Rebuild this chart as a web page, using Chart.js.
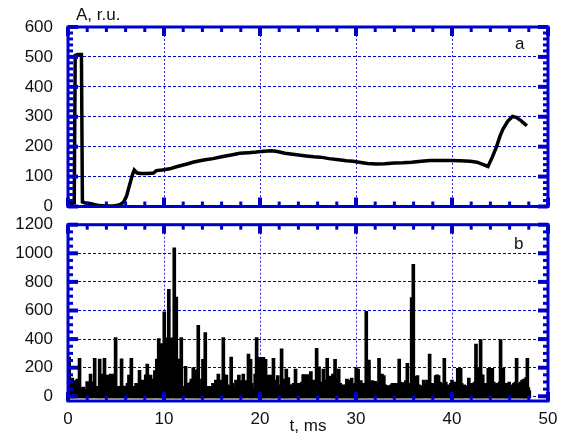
<!DOCTYPE html>
<html>
<head>
<meta charset="utf-8">
<script src="https://cdn.jsdelivr.net/npm/chart.js@4.4.1/dist/chart.umd.min.js"></script>
<style>
  body { margin: 0; background: #fff; overflow: hidden; }
  #wrap { position: relative; width: 562px; height: 434px; }
  canvas { position: absolute; left: 0; }
  .lbl { position: absolute; font: 17px "Liberation Sans", Arial, sans-serif; line-height: 20px; color: #111; white-space: nowrap; }
</style>
</head>
<body>
<div id="wrap">
  <canvas id="chartA" width="562" height="214" style="top:0"></canvas>
  <canvas id="chartB" width="562" height="220" style="top:214px"></canvas>
  <span class="lbl" style="left:76px;top:5px">A, r.u.</span>
  <span class="lbl" style="left:515px;top:34px">a</span>
  <span class="lbl" style="left:514px;top:234px">b</span>
</div>
<script>
// panel a: amplitude, r.u. vs t, ms
const tA = [0, 0.3, 0.65, 0.75, 1.0, 1.4, 1.5, 1.8, 2.3, 2.8, 3.3, 4.0, 4.7, 5.2, 5.5, 5.8, 6.1, 6.4, 6.7, 6.9,
  7.2, 7.6, 8.2, 8.9, 9.2, 9.8, 10.6, 11.2, 11.7, 12.4, 13.0, 13.6, 14.3, 15.1, 16.0, 17.0, 17.9, 18.8, 19.6, 20.4,
  21.2, 21.8, 22.6, 23.8, 24.8, 25.6, 26.3, 27.2, 28.2, 29.0, 29.7, 30.5, 31.2, 32.1, 33.0, 34.0, 34.9, 35.8, 36.8, 37.7,
  38.6, 39.8, 40.8, 41.9, 42.6, 43.2, 43.75, 44.2, 44.65, 45.0, 45.3, 45.8, 46.3, 46.7, 47.1, 47.5, 47.8];
const ampA = [12, 10, 12, 505, 508, 508, 15, 12, 10, 6, 3, 2, 2, 4, 8, 15, 35, 70, 105, 122,
  112, 110, 110, 112, 120, 122, 126, 132, 136, 142, 148, 152, 156, 160, 166, 172, 178, 180, 182, 185,
  186, 184, 178, 173, 169, 166, 165, 160, 156, 153, 151, 147, 144, 142, 143, 145, 146, 148, 151, 154,
  154, 154, 153, 151, 148, 141, 134, 165, 201, 235, 258, 285, 301, 298, 289, 278, 270];

// panel b: spiky signal
const tB = [0.0, 0.12, 0.3, 0.45, 0.6, 0.75, 0.97, 1.2, 1.4, 1.6, 1.8, 2.0, 2.2, 2.35, 2.55, 2.78, 3.0, 3.15, 3.3, 3.45,
  3.6, 3.8, 3.95, 4.1, 4.3, 4.45, 4.6, 4.8, 4.96, 5.1, 5.25, 5.4, 5.58, 5.75, 5.9, 6.05, 6.2, 6.35, 6.6, 6.8,
  6.95, 7.1, 7.3, 7.45, 7.6, 7.75, 7.95, 8.1, 8.26, 8.45, 8.6, 8.75, 8.9, 9.05, 9.25, 9.45, 9.6, 9.75, 9.9, 10.03,
  10.15, 10.27, 10.4, 10.5, 10.62, 10.76, 10.9, 11.07, 11.18, 11.28, 11.4, 11.5, 11.65, 11.8, 11.95, 12.05, 12.25, 12.45, 12.6, 12.75,
  12.85, 13.05, 13.2, 13.3, 13.45, 13.57, 13.7, 13.8, 13.95, 14.06, 14.18, 14.3, 14.45, 14.6, 14.8, 14.95, 15.1, 15.25, 15.4, 15.55,
  15.66, 15.8, 15.9, 16.05, 16.18, 16.3, 16.5, 16.65, 16.8, 17.0, 17.15, 17.3, 17.5, 17.65, 17.8, 17.95, 18.1, 18.26, 18.4, 18.55,
  18.8, 18.9, 19.02, 19.15, 19.3, 19.5, 19.65, 19.78, 19.9, 20.05, 20.2, 20.35, 20.45, 20.58, 20.75, 20.9, 21.05, 21.2, 21.3, 21.4,
  21.55, 21.65, 21.85, 22.0, 22.1, 22.25, 22.38, 22.5, 22.62, 22.74, 22.85, 22.95, 23.1, 23.2, 23.35, 23.5, 23.7, 23.82, 23.9, 24.05,
  24.2, 24.35, 24.5, 24.65, 24.8, 24.95, 25.1, 25.3, 25.45, 25.55, 25.75, 25.9, 26.02, 26.15, 26.3, 26.4, 26.6, 26.72, 26.85, 27.0,
  27.15, 27.3, 27.45, 27.6, 27.7, 27.82, 27.95, 28.05, 28.2, 28.35, 28.5, 28.62, 28.75, 28.9, 29.05, 29.2, 29.3, 29.42, 29.55, 29.7,
  29.8, 29.9, 30.02, 30.15, 30.22, 30.35, 30.5, 30.65, 30.8, 30.95, 31.07, 31.2, 31.35, 31.5, 31.7, 31.85, 32.0, 32.1, 32.2, 32.4,
  32.55, 32.7, 32.82, 32.9, 33.05, 33.2, 33.35, 33.5, 33.65, 33.8, 33.95, 34.05, 34.2, 34.35, 34.5, 34.62, 34.75, 34.9, 35.05, 35.2,
  35.35, 35.5, 35.65, 35.8, 35.97, 36.1, 36.2, 36.3, 36.4, 36.55, 36.65, 36.8, 36.9, 37.05, 37.2, 37.4, 37.53, 37.67, 37.8, 37.9,
  38.05, 38.15, 38.3, 38.45, 38.6, 38.75, 38.9, 39.05, 39.2, 39.35, 39.5, 39.65, 39.75, 39.88, 40.0, 40.15, 40.3, 40.45, 40.6, 40.75,
  40.9, 41.0, 41.1, 41.25, 41.4, 41.55, 41.75, 41.88, 42.0, 42.1, 42.2, 42.35, 42.5, 42.6, 42.7, 42.85, 42.98, 43.1, 43.2, 43.35,
  43.5, 43.65, 43.78, 43.9, 44.05, 44.2, 44.35, 44.5, 44.6, 44.7, 44.85, 44.95, 45.06, 45.2, 45.35, 45.5, 45.6, 45.7, 45.8, 45.95,
  46.1, 46.2, 46.3, 46.45, 46.6, 46.73, 46.85, 47.0, 47.15, 47.3, 47.4, 47.5, 47.6, 47.72, 47.85, 47.95, 48.05];
const ampB = [60, 275, 90, 127, 70, 110, 121, 266, 60, 65, 50, 102, 90, 155, 100, 265, 70, 60, 260, 80,
  155, 265, 80, 148, 90, 155, 150, 155, 411, 60, 70, 55, 262, 70, 72, 60, 90, 148, 265, 55,
  70, 90, 75, 182, 80, 113, 110, 150, 225, 100, 148, 120, 90, 180, 260, 404, 323, 369, 200, 590,
  300, 408, 350, 748, 300, 408, 250, 1038, 400, 694, 250, 260, 90, 411, 70, 63, 210, 90, 70, 100,
  121, 200, 90, 185, 100, 497, 80, 70, 120, 258, 120, 446, 70, 70, 65, 70, 90, 80, 114, 100,
  155, 90, 113, 100, 411, 150, 148, 80, 70, 274, 90, 60, 113, 80, 148, 90, 110, 155, 100, 110,
  295, 200, 258, 90, 50, 155, 411, 150, 272, 200, 272, 272, 150, 258, 100, 148, 120, 148, 90, 265,
  100, 113, 145, 80, 70, 332, 90, 121, 100, 190, 100, 130, 80, 70, 80, 90, 190, 80, 75, 90,
  70, 100, 152, 150, 100, 152, 90, 172, 100, 113, 60, 335, 120, 206, 100, 90, 190, 110, 113, 265,
  90, 142, 100, 155, 110, 258, 110, 130, 190, 90, 70, 80, 67, 80, 121, 90, 113, 100, 128, 80,
  70, 90, 200, 120, 190, 90, 110, 80, 90, 70, 594, 150, 253, 100, 110, 80, 105, 70, 90, 265,
  100, 155, 100, 145, 80, 70, 75, 70, 80, 90, 80, 90, 90, 80, 260, 100, 90, 95, 80, 110,
  230, 90, 80, 690, 922, 120, 140, 100, 145, 80, 70, 75, 70, 113, 90, 113, 100, 295, 90, 70,
  90, 80, 145, 150, 145, 100, 75, 90, 265, 100, 65, 80, 70, 90, 113, 100, 70, 100, 195, 195,
  195, 90, 70, 80, 60, 75, 128, 80, 70, 90, 75, 100, 365, 120, 195, 150, 397, 120, 150, 90,
  70, 90, 195, 195, 195, 195, 100, 70, 80, 90, 80, 100, 397, 120, 195, 90, 75, 80, 90, 100,
  70, 80, 75, 90, 100, 265, 90, 90, 100, 113, 100, 120, 110, 130, 265, 60, 40];

const xTicks = [0, 10, 20, 30, 40, 50];
const yTicksA = [0, 100, 200, 300, 400, 500, 600];
const yTicksB = [0, 200, 400, 600, 800, 1000, 1200];

const blue = '#0000cd';
const font = { family: '"Liberation Sans", Arial, sans-serif', size: 17 };

// blue box with inward ticks, drawn over the data
const framePlugin = {
    id: 'frame',
    afterDatasetsDraw(chart, args, opts) {
        const { ctx, chartArea: a, scales } = chart;
        const seg = (x1, y1, x2, y2) => { ctx.beginPath(); ctx.moveTo(x1, y1); ctx.lineTo(x2, y2); ctx.stroke(); };
        ctx.save();
        ctx.strokeStyle = blue;
        for (let t = 0; t <= 50; t += 2) {
            const px = scales.x.getPixelForValue(t);
            const major = t % 10 === 0;
            ctx.lineWidth = major ? 4 : 3;
            const len = major ? 9 : 5;
            seg(px, a.bottom, px, a.bottom - len);
            seg(px, a.top, px, a.top + len);
        }
        for (let v = 0; v <= opts.max; v += opts.minor) {
            const py = scales.y.getPixelForValue(v);
            const major = v % opts.major === 0;
            ctx.lineWidth = major ? 4 : 3;
            const len = major ? 10 : 5;
            seg(a.left, py, a.left + len, py);
            seg(a.right, py, a.right - len, py);
        }
        ctx.lineWidth = 3;
        ctx.strokeRect(a.left, a.top, a.right - a.left, a.bottom - a.top);
        ctx.restore();
    }
};

const xScale = (showLabels, height) => ({
    type: 'linear',
    min: 0,
    max: 50,
    offset: false,
    afterBuildTicks: s => { s.ticks = xTicks.map(v => ({ value: v })); },
    afterFit: s => { s.height = height; s.paddingLeft = 0; s.paddingRight = 0; },
    ticks: { display: showLabels, color: '#111', font, padding: 8, maxRotation: 0, callback: v => String(v) },
    grid: { color: '#2a2ad8', lineWidth: 1, drawTicks: false, offset: false },
    border: { display: false, dash: [2, 2] }
});

const yScale = (min, max, ticks) => ({
    min,
    max,
    afterBuildTicks: s => { s.ticks = ticks.map(v => ({ value: v })); },
    afterFit: s => { s.width = 68; s.paddingTop = 0; s.paddingBottom = 0; },
    ticks: { color: '#111', font, padding: 15, callback: v => String(v) },
    grid: { color: '#0000cc', lineWidth: 1, drawTicks: false },
    border: { display: false, dash: [3, 2] }
});

const renderChartA = () => {
    new Chart(document.getElementById('chartA'), {
        type: 'line',
        data: {
            datasets: [{
                data: tA.map((t, i) => ({ x: t, y: ampA[i] })),
                borderColor: '#000',
                borderWidth: 3.5,
                pointRadius: 0,
                tension: 0
            }]
        },
        options: {
            responsive: false,
            animation: false,
            layout: { padding: { top: 27, right: 14, left: 0, bottom: 0 } },
            plugins: { legend: { display: false }, tooltip: { enabled: false }, frame: { max: 600, minor: 20, major: 100 } },
            scales: { x: xScale(false, 7.5), y: yScale(0, 600, yTicksA) }
        },
        plugins: [framePlugin]
    });
};

const renderChartB = () => {
    const x = xScale(true, 33);
    x.title = { display: true, text: 't, ms', color: '#111', font, padding: { top: 0, bottom: -2.5 } };
    new Chart(document.getElementById('chartB'), {
        type: 'bar',
        data: {
            datasets: [{
                data: tB.map((t, i) => ({ x: t, y: ampB[i] })),
                backgroundColor: '#000',
                borderWidth: 0,
                barThickness: 3,
                base: -12
            }]
        },
        options: {
            responsive: false,
            animation: false,
            layout: { padding: { top: 10.7, right: 14, left: 0, bottom: 0 } },
            plugins: { legend: { display: false }, tooltip: { enabled: false }, frame: { max: 1200, minor: 50, major: 200 } },
            scales: { x, y: yScale(-33, 1200, yTicksB) }
        },
        plugins: [framePlugin]
    });
};

document.addEventListener('DOMContentLoaded', () => {
    renderChartA();
    renderChartB();
});
</script>
</body>
</html>
